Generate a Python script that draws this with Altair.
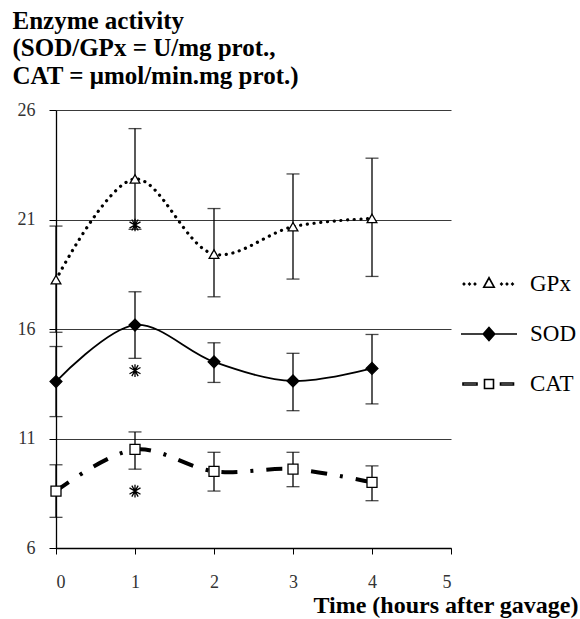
import altair as alt
import pandas as pd

# ---- data ----
hours = [0, 1, 2, 3, 4]
series_names = ["GPx", "SOD", "CAT"]

gpx_mean = [18.25, 22.85, 19.42, 20.67, 21.05]
gpx_hi = [20.70, 25.15, 21.50, 23.08, 23.80]
gpx_lo = [15.85, 20.55, 17.47, 18.28, 18.40]

sod_mean = [13.60, 16.18, 14.50, 13.63, 14.20]
sod_hi = [15.20, 17.70, 15.37, 14.89, 15.75]
sod_lo = [12.00, 14.66, 13.56, 12.27, 12.58]

cat_mean = [8.60, 10.50, 9.50, 9.60, 9.00]
cat_hi = [9.80, 11.30, 10.37, 10.37, 9.75]
cat_lo = [7.40, 9.60, 8.60, 8.80, 8.16]

star_x = [1, 1, 1]
star_y = [20.75, 14.10, 8.60]

y_ticks = [6, 11, 16, 21, 26]
x_ticks = [0, 1, 2, 3, 4, 5]

rows = []
for name, m, hi, lo in [("GPx", gpx_mean, gpx_hi, gpx_lo),
                        ("SOD", sod_mean, sod_hi, sod_lo),
                        ("CAT", cat_mean, cat_hi, cat_lo)]:
    for h, a, b, c in zip(hours, m, hi, lo):
        rows.append({"series": name, "x": h, "mean": a, "hi": b, "lo": c})
df = pd.DataFrame(rows)
stars = pd.DataFrame({"x": star_x, "y": star_y})

FONT = "Liberation Serif"

xs = alt.Scale(domain=[0, 5], nice=False, zero=False)
ys = alt.Scale(domain=[6, 26], nice=False, zero=False)

x_axis = alt.Axis(values=x_ticks, grid=False, tickSize=6, tickColor="black",
                  domainColor="black", domainWidth=1.3, labelFont=FONT,
                  labelFontSize=18, labelColor="#333333", labelPadding=19,
                  title="Time (hours after gavage)", titleFont=FONT,
                  titleFontSize=24, titleFontWeight="bold", titleColor="black",
                  titleAnchor="start", titleAlign="right", titleX=522,
                  titleY=64, titleBaseline="alphabetic", format="d")
y_axis = alt.Axis(values=y_ticks, grid=True, gridColor="#3a3a3a", gridWidth=1,
                  tickSize=7, tickColor="black", domainColor="black",
                  domainWidth=1.3, labelFont=FONT, labelFontSize=18,
                  labelColor="#333333", labelPadding=14, format="d",
                  title=["Enzyme activity", "(SOD/GPx = U/mg prot.,",
                         "CAT = \u03bcmol/min.mg prot.)"],
                  titleFont=FONT, titleFontSize=25, titleFontWeight="bold",
                  titleColor="black", titleAngle=0, titleAlign="left",
                  titleBaseline="top", titleX=-44, titleY=-102,
                  titleLineHeight=27.5)

base = alt.Chart(df)
X = alt.X("x:Q", scale=xs, axis=x_axis)
Y = alt.Y("mean:Q", scale=ys, axis=y_axis)

line_styles = {
    "GPx": dict(strokeDash=[0.1, 6.6], strokeCap="round", strokeWidth=3.2),
    "SOD": dict(strokeWidth=1.8),
    "CAT": dict(strokeDash=[16, 13, 3, 13], strokeWidth=4),
}
layers = []
for s in series_names:
    layers.append(
        base.transform_filter(alt.datum.series == s)
        .mark_line(color="black", interpolate="catmull-rom", **line_styles[s])
        .encode(x=X, y=Y)
    )

err = base.mark_rule(color="black", strokeWidth=1.3).encode(
    x="x:Q", y=alt.Y("lo:Q", scale=ys), y2="hi:Q")
cap_hi = base.mark_tick(color="black", orient="horizontal", size=13,
                        thickness=1.3).encode(x="x:Q", y=alt.Y("hi:Q", scale=ys))
cap_lo = base.mark_tick(color="black", orient="horizontal", size=13,
                        thickness=1.3).encode(x="x:Q", y=alt.Y("lo:Q", scale=ys))
layers += [err, cap_hi, cap_lo]

marker_styles = {
    "GPx": dict(shape="triangle-up", size=95, fill="white"),
    "SOD": dict(shape="diamond", size=140, fill="black"),
    "CAT": dict(shape="square", size=100, fill="white"),
}
for s in series_names:
    layers.append(
        base.transform_filter(alt.datum.series == s)
        .mark_point(stroke="black", strokeWidth=1.3, opacity=1,
                    fillOpacity=1, **marker_styles[s])
        .encode(x="x:Q", y=alt.Y("mean:Q", scale=ys))
    )

asterisk = ("M0,-1L0,1M-0.87,-0.5L0.87,0.5M-0.87,0.5L0.87,-0.5"
            "M-0.5,-0.87L0.5,0.87M0.5,-0.87L-0.5,0.87")
layers.append(
    alt.Chart(stars).mark_point(shape=asterisk, size=160, stroke="black",
                                strokeWidth=1.3, opacity=1)
    .encode(x="x:Q", y=alt.Y("y:Q", scale=ys))
)

# legend symbols (line + marker) as custom paths
def dot(x):
    return f"M{x},-0.03L{x+0.03},0L{x},0.03L{x-0.03},0Z"

gpx_sym = "".join(dot(v) for v in [-1.0, -0.78, -0.56, 0.5, 0.72, 0.94]) + \
    "M-0.21,0.13L0,-0.25L0.21,0.13Z"
sod_sym = "M-1.12,0L1.12,0M0,-0.26L0.23,0L0,0.26L-0.23,0Z"
cat_sym = ("M-1.04,-0.04L-0.48,-0.04L-0.48,0.04L-1.04,0.04Z"
           "M0.46,-0.04L0.98,-0.04L0.98,0.04L0.46,0.04Z"
           "M-0.18,-0.18L0.18,-0.18L0.18,0.18L-0.18,0.18Z")

leg = alt.Legend(title=None, orient="none", legendX=407, legendY=148,
                 symbolSize=2500, symbolStrokeWidth=1.6,
                 symbolOpacity=1,
                 labelFont=FONT, labelFontSize=23, labelColor="black",
                 labelOffset=15, rowPadding=12, padding=0)
dummy = base.mark_point(opacity=0, strokeWidth=1.6).encode(
    x="x:Q", y=alt.Y("mean:Q", scale=ys),
    shape=alt.Shape("series:N", scale=alt.Scale(domain=series_names,
                    range=[gpx_sym, sod_sym, cat_sym]), legend=leg),
    fill=alt.Fill("series:N", scale=alt.Scale(domain=series_names,
                  range=["white", "black", "white"]), legend=leg),
    stroke=alt.Stroke("series:N", scale=alt.Scale(domain=series_names,
                      range=["black", "black", "black"]), legend=leg),
)
layers.append(dummy)

chart = alt.layer(*layers).properties(
    width=395, height=438,
    autosize=alt.AutoSizeParams(type="none"),
    padding={"left": 56, "top": 110, "right": 129, "bottom": 71},
    background="white",
).configure(font=FONT).configure_view(strokeWidth=0).configure_axis(
    labelFont=FONT, titleFont=FONT
).configure_legend(labelFont=FONT)

chart.save("out.html", embed_options={"renderer": "svg", "actions": False})
